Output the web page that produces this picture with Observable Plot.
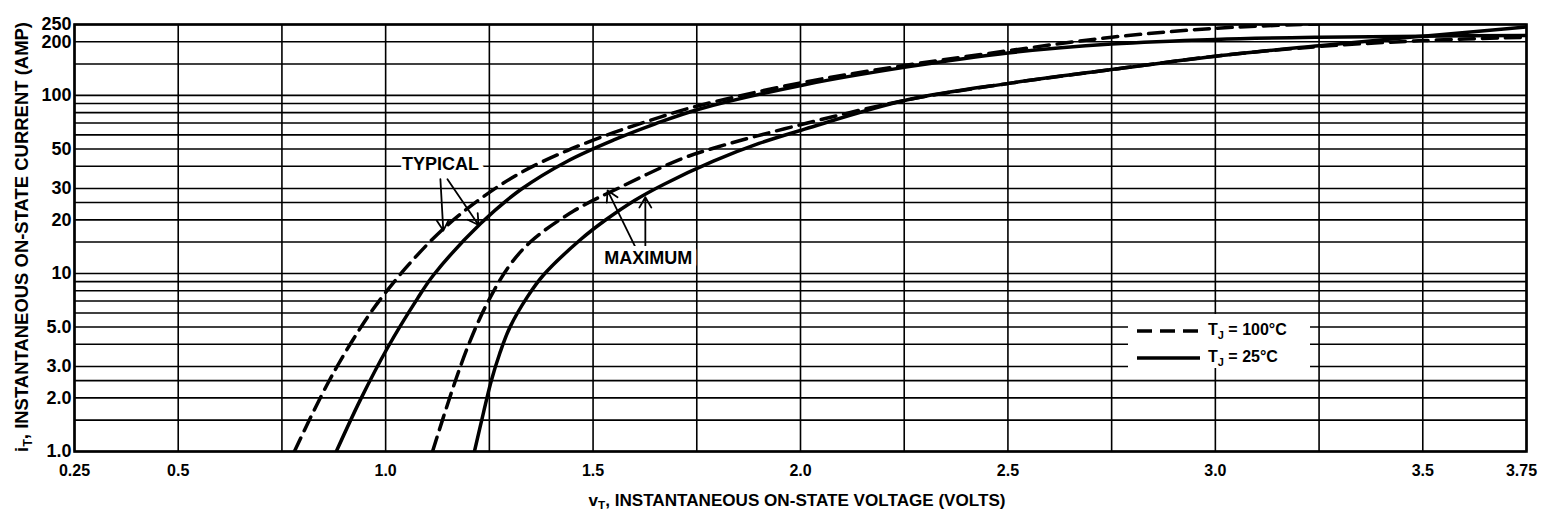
<!DOCTYPE html>
<html><head><meta charset="utf-8">
<script src="https://cdn.jsdelivr.net/npm/d3@7"></script>
<script src="https://cdn.jsdelivr.net/npm/@observablehq/plot@0.6"></script>
<style>
body{margin:0;background:#fff;}
#wrap{position:relative;width:1541px;height:521px;font-family:'Liberation Sans',Arial,sans-serif;font-weight:bold;}
#legend{position:absolute;left:1128px;top:314px;width:182px;height:54px;background:#fff;font-size:16px;}
#legend .row{position:absolute;left:0;display:flex;align-items:center;height:20px;}
#legend sub{font-size:11px;}
</style></head><body><div id="wrap"></div>
<script>
// Axis ticks and grid
const xTicks = [0.25, 0.5, 1.0, 1.5, 2.0, 2.5, 3.0, 3.5];
const xTickLabels = ["0.25", "0.5", "1.0", "1.5", "2.0", "2.5", "3.0", "3.5"];
const xLastTick = [3.75];
const xLastLabel = ["3.75"];
const xGrid = [0.25, 0.5, 0.75, 1.0, 1.25, 1.5, 1.75, 2.0, 2.25, 2.5, 2.75, 3.0, 3.25, 3.5, 3.75];
const yTicks = [1, 2, 3, 5, 7, 10, 20, 30, 50, 70, 100, 200, 250];
const yTickLabels = ["1.0", "2.0", "3.0", "5.0", "7.0", "10", "20", "30", "50", "70", "100", "200", "250"];
const yGrid = [1, 1.5, 2, 2.5, 3, 4, 5, 6, 7, 8, 9, 10, 15, 20, 25, 30, 40, 50, 60, 70, 80, 90, 100, 150, 200, 250];

// Curves: on-state voltage (V) and current (A)
const typ100V = [0.78, 0.824, 0.86, 0.886, 0.922, 0.97, 1.048, 1.139, 1.229, 1.325, 1.438, 1.549, 1.638, 1.735, 2.0, 2.25, 2.5, 2.75, 3.0, 3.25];
const typ100I = [1, 1.64, 2.40, 3.09, 4.27, 6.31, 10.7, 17.8, 26.3, 36.7, 49.0, 61.7, 72.4, 85.1, 117.5, 147, 178, 212, 238, 252];
const typ25V = [0.881, 0.939, 1.004, 1.077, 1.115, 1.229, 1.325, 1.438, 1.55, 1.65, 1.759, 2.01, 2.258, 2.5, 2.75, 3.0, 3.25, 3.5, 3.75];
const typ25I = [1, 1.95, 3.80, 7.24, 9.77, 19.05, 29.5, 42.7, 56.2, 69.2, 84.1, 114.8, 144.5, 173, 194, 206, 212, 215, 217];
const max100V = [1.113, 1.14, 1.17, 1.20, 1.24, 1.294, 1.35, 1.453, 1.566, 1.71, 1.80, 2.0, 2.258, 2.51, 2.754, 3.0, 3.25, 3.5, 3.75];
const max100I = [1, 1.58, 2.57, 3.98, 6.46, 10.7, 15.1, 22.4, 30.5, 43.7, 51.3, 68.4, 94.4, 117.5, 140, 166, 188, 203, 212];
const max25V = [1.214, 1.236, 1.255, 1.275, 1.30, 1.342, 1.38, 1.47, 1.53, 1.60, 1.67, 1.79, 1.90, 2.01, 2.258, 2.51, 2.754, 3.0, 3.25, 3.5, 3.75];
const max25I = [1, 1.66, 2.51, 3.55, 5.01, 7.41, 9.77, 15.5, 19.95, 25.7, 31.6, 42.7, 53.7, 64.6, 94.4, 117.5, 140, 166, 190, 215, 242];

// Annotations (label positions and arrow ends, in data units)
const noteText = ["TYPICAL", "MAXIMUM"];
const noteV = [1.132, 1.633];
const noteI = [41, 12.1];
const arrowV1 = [1.132, 1.149, 1.605, 1.626];
const arrowI1 = [33.8, 33.8, 13.6, 13.6];
const arrowV2 = [1.139, 1.224, 1.535, 1.626];
const arrowI2 = [17.4, 18.7, 29.2, 26.8];

const zip = (V, I) => V.map((v, k) => ({v, i: I[k]}));
const typ100 = zip(typ100V, typ100I), typ25 = zip(typ25V, typ25I);
const max100 = zip(max100V, max100I), max25 = zip(max25V, max25I);
const notes = noteText.map((t, k) => ({t, v: noteV[k], i: noteI[k]}));
const arrows = arrowV1.map((v, k) => ({v1: v, i1: arrowI1[k], v2: arrowV2[k], i2: arrowI2[k]}));

const FONT = "'Liberation Sans',Arial,sans-serif";
const dash = "15,8";
const lw = 3.5;
const curve = "catmull-rom";

const chart = Plot.plot({
  width: 1541, height: 521,
  marginLeft: 74, marginRight: 15, marginTop: 24, marginBottom: 70,
  style: {fontFamily: FONT, fontWeight: "bold", color: "black", background: "white", overflow: "visible"},
  x: {domain: [0.25, 3.75], label: null},
  y: {type: "log", domain: [1, 250], label: null},
  marks: [
    Plot.ruleX(xGrid, {stroke: "black", strokeWidth: 1.6}),
    Plot.ruleY(yGrid, {stroke: "black", strokeWidth: 1.6}),
    Plot.frame({stroke: "black", strokeWidth: 2.6}),
    Plot.axisX({ticks: xTicks, tickFormat: (d) => xTickLabels[xTicks.indexOf(d)], tickSize: 0, tickPadding: 13, fontSize: 16, label: null}),
    Plot.axisX({ticks: xLastTick, tickFormat: (d) => xLastLabel[xLastTick.indexOf(d)], tickSize: 0, tickPadding: 13, fontSize: 16, dx: -5, label: null}),
    Plot.axisY({ticks: yTicks, tickFormat: (d) => yTickLabels[yTicks.indexOf(d)], tickSize: 0, tickPadding: 3, fontSize: 18, label: null}),
    Plot.line(typ100, {x: "v", y: "i", stroke: "black", strokeWidth: lw, strokeDasharray: dash, curve, clip: true}),
    Plot.line(typ25, {x: "v", y: "i", stroke: "black", strokeWidth: lw, curve, clip: true}),
    Plot.line(max100, {x: "v", y: "i", stroke: "black", strokeWidth: lw, strokeDasharray: dash, curve, clip: true}),
    Plot.line(max25, {x: "v", y: "i", stroke: "black", strokeWidth: lw, curve, clip: true}),
    Plot.arrow(arrows, {x1: "v1", y1: "i1", x2: "v2", y2: "i2", stroke: "black", strokeWidth: 1.8, headLength: 10}),
    Plot.text(notes, {x: "v", y: "i", text: "t", fontSize: 18, fontWeight: "bold", fill: "black", stroke: "white", strokeWidth: 10})
  ]
});

const wrap = document.getElementById("wrap");
wrap.appendChild(chart);

// Axis titles with subscripts
const svg = d3.select(chart);
const yt = svg.append("text")
  .attr("transform", "translate(28,237) rotate(-90)")
  .attr("text-anchor", "middle").attr("font-size", 19).attr("font-weight", "bold").attr("fill", "black")
  .attr("textLength", 430).attr("lengthAdjust", "spacingAndGlyphs");
yt.append("tspan").text("i");
yt.append("tspan").attr("font-size", 13).attr("dy", 4).text("T");
yt.append("tspan").attr("dy", -4).text(", INSTANTANEOUS ON-STATE CURRENT (AMP)");

const xt = svg.append("text")
  .attr("x", 797).attr("y", 506)
  .attr("text-anchor", "middle").attr("font-size", 16).attr("font-weight", "bold").attr("fill", "black")
  .attr("textLength", 417).attr("lengthAdjust", "spacingAndGlyphs");
xt.append("tspan").text("v");
xt.append("tspan").attr("font-size", 11).attr("dy", 3).text("T");
xt.append("tspan").attr("dy", -3).text(", INSTANTANEOUS ON-STATE VOLTAGE (VOLTS)");

// Legend
const legend = document.createElement("div");
legend.id = "legend";
legend.innerHTML = `
<div class="row" style="top:7px"><svg width="80" height="10"><line x1="9" x2="72" y1="5" y2="5" stroke="black" stroke-width="3.5" stroke-dasharray="15,8"/></svg><span>T<sub>J</sub> = 100°C</span></div>
<div class="row" style="top:34px"><svg width="80" height="10"><line x1="9" x2="72" y1="5" y2="5" stroke="black" stroke-width="3.5"/></svg><span>T<sub>J</sub> = 25°C</span></div>`;
wrap.appendChild(legend);
</script></body></html>
